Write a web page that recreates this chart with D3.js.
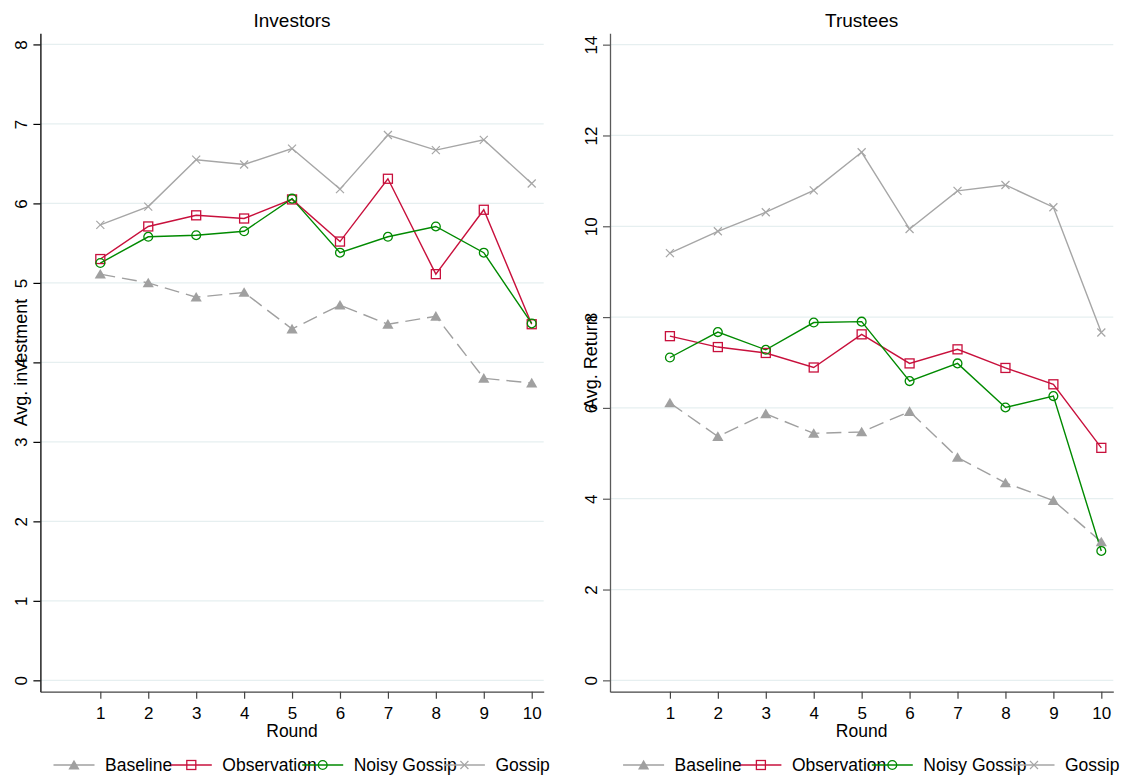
<!DOCTYPE html>
<html>
<head>
<meta charset="utf-8">
<script src="https://cdn.jsdelivr.net/npm/d3@7"></script>
<style>
  html, body { margin: 0; padding: 0; background: #fff; }
  svg { display: block; font-family: "Liberation Sans", Arial, Helvetica, sans-serif; }
</style>
</head>
<body>
<svg id="chart" width="1128" height="782"></svg>
<script>
// ---------- data ----------
const rounds = [1, 2, 3, 4, 5, 6, 7, 8, 9, 10];
const seriesNames = ["Baseline", "Observation", "Noisy Gossip", "Gossip"];

const investBaseline    = [5.11, 5.00, 4.82, 4.88, 4.42, 4.72, 4.48, 4.58, 3.80, 3.74];
const investObservation = [5.30, 5.71, 5.85, 5.81, 6.05, 5.52, 6.31, 5.11, 5.92, 4.48];
const investNoisyGossip = [5.25, 5.58, 5.60, 5.65, 6.06, 5.38, 5.58, 5.71, 5.38, 4.49];
const investGossip      = [5.73, 5.96, 6.55, 6.49, 6.69, 6.18, 6.86, 6.67, 6.80, 6.25];

const returnBaseline    = [6.11, 5.37, 5.87, 5.44, 5.47, 5.92, 4.91, 4.35, 3.96, 3.05];
const returnObservation = [7.58, 7.34, 7.21, 6.89, 7.62, 6.98, 7.29, 6.88, 6.52, 5.12];
const returnNoisyGossip = [7.11, 7.67, 7.28, 7.88, 7.90, 6.59, 6.98, 6.01, 6.26, 2.85];
const returnGossip      = [9.41, 9.89, 10.31, 10.79, 11.63, 9.94, 10.78, 10.91, 10.42, 7.66];

const investorTicks = [0, 1, 2, 3, 4, 5, 6, 7, 8];
const trusteeTicks  = [0, 2, 4, 6, 8, 10, 12, 14];

// ---------- styles ----------
const styles = {
  "Baseline":     { color: "#a0a0a0", dash: "15,7", marker: "triangle" },
  "Observation":  { color: "#c8103c", dash: null,   marker: "square" },
  "Noisy Gossip": { color: "#008a00", dash: null,   marker: "circle" },
  "Gossip":       { color: "#a6a6a6", dash: null,   marker: "x" }
};

const svg = d3.select("#chart");
svg.append("rect").attr("width", 1128).attr("height", 782).attr("fill", "#fff");

function drawMarker(g, type, color) {
  if (type === "triangle") {
    g.append("path").attr("d", "M0,-5.2L5.6,4.4L-5.6,4.4Z").attr("fill", color).attr("stroke", "none");
  } else if (type === "square") {
    g.append("rect").attr("x", -4.5).attr("y", -4.5).attr("width", 9).attr("height", 9)
      .attr("fill", "none").attr("stroke", color).attr("stroke-width", 1.3);
  } else if (type === "circle") {
    g.append("circle").attr("r", 4.4).attr("fill", "none").attr("stroke", color).attr("stroke-width", 1.3);
  } else if (type === "x") {
    g.append("path").attr("d", "M-4,-4L4,4M-4,4L4,-4").attr("stroke", color).attr("stroke-width", 1.2).attr("fill", "none");
  }
}

function panel(opts) {
  const left = opts.left, right = left + 503.3, top = 33.3, bottom = 691.7;
  const x = d3.scaleLinear().domain([-0.25, 10.25]).range([left, right]);
  const y = d3.scaleLinear().domain(opts.yDomain).range([bottom, top]);
  const g = svg.append("g");

  // grid
  g.append("g").selectAll("line").data(opts.yTicks).join("line")
    .attr("x1", left).attr("x2", right)
    .attr("y1", d => y(d)).attr("y2", d => y(d))
    .attr("stroke", "#e6eff0").attr("stroke-width", 1.2);

  // y axis
  const ya = g.append("g").attr("transform", `translate(${left},0)`)
    .call(d3.axisLeft(y).tickValues(opts.yTicks).tickSize(7).tickSizeOuter(0));
  ya.select(".domain").attr("stroke", opts.yAxisColor).attr("stroke-width", 1.3);
  ya.selectAll(".tick line").attr("stroke", opts.yAxisColor).attr("stroke-width", 1.2);
  ya.selectAll(".tick text")
    .attr("transform", "rotate(-90)")
    .attr("x", 0).attr("y", -13.4).attr("dy", 0)
    .attr("text-anchor", "middle")
    .attr("fill", "#000")
    .style("font-size", "17px")
    .style("font-family", "'Liberation Sans', Arial, sans-serif");

  // x axis
  const xa = g.append("g").attr("transform", `translate(0,${bottom})`)
    .call(d3.axisBottom(x).tickValues(rounds).tickSize(7).tickSizeOuter(0));
  xa.select(".domain").attr("stroke", "#444").attr("stroke-width", 1.3);
  xa.selectAll(".tick line").attr("stroke", "#444").attr("stroke-width", 1.2);
  xa.selectAll(".tick text")
    .attr("y", 27.6).attr("dy", 0)
    .attr("fill", "#000")
    .style("font-size", "17px")
    .style("font-family", "'Liberation Sans', Arial, sans-serif");

  // titles
  const cx = (left + right) / 2;
  g.append("text").attr("x", cx).attr("y", 26.5).attr("text-anchor", "middle")
    .style("font-size", "19px").text(opts.title);
  g.append("text").attr("x", cx).attr("y", 737.2).attr("text-anchor", "middle")
    .style("font-size", "17.5px").text("Round");
  g.append("text").attr("transform", `translate(${left - 13.4},${(top + bottom) / 2}) rotate(-90)`)
    .attr("text-anchor", "middle").style("font-size", "18px").text(opts.yTitle);

  // series
  const line = d3.line().x((d, i) => x(rounds[i])).y(d => y(d));
  opts.series.forEach((vals, si) => {
    const st = styles[seriesNames[si]];
    g.append("path").datum(vals).attr("d", line)
      .attr("fill", "none").attr("stroke", st.color).attr("stroke-width", 1.4)
      .attr("stroke-dasharray", st.dash);
  });
  opts.series.forEach((vals, si) => {
    const st = styles[seriesNames[si]];
    vals.forEach((v, i) => {
      const mg = g.append("g").attr("transform", `translate(${x(rounds[i])},${y(v)})`);
      drawMarker(mg, st.marker, st.color);
    });
  });

  // legend
  const keyOffsets = [33.6, 150.9, 282.3, 424];
  const ly = 765;
  seriesNames.forEach((name, i) => {
    const st = styles[name];
    const kx = left + keyOffsets[i];
    g.append("line").attr("x1", kx - 20.5).attr("x2", kx + 20.5).attr("y1", ly).attr("y2", ly)
      .attr("stroke", st.color).attr("stroke-width", 1.4);
    const mg = g.append("g").attr("transform", `translate(${kx},${ly})`);
    drawMarker(mg, st.marker, st.color);
    g.append("text").attr("x", kx + 31).attr("y", ly + 6.2)
      .style("font-size", "17.5px").text(name);
  });
}

panel({
  left: 40.4, title: "Investors", yTitle: "Avg. investment",
  yDomain: [-0.143, 8.14], yTicks: investorTicks, yAxisColor: "#000",
  series: [investBaseline, investObservation, investNoisyGossip, investGossip]
});
panel({
  left: 610, title: "Trustees", yTitle: "Avg. Return",
  yDomain: [-0.25, 14.25], yTicks: trusteeTicks, yAxisColor: "#5a5a5a",
  series: [returnBaseline, returnObservation, returnNoisyGossip, returnGossip]
});
</script>
</body>
</html>
